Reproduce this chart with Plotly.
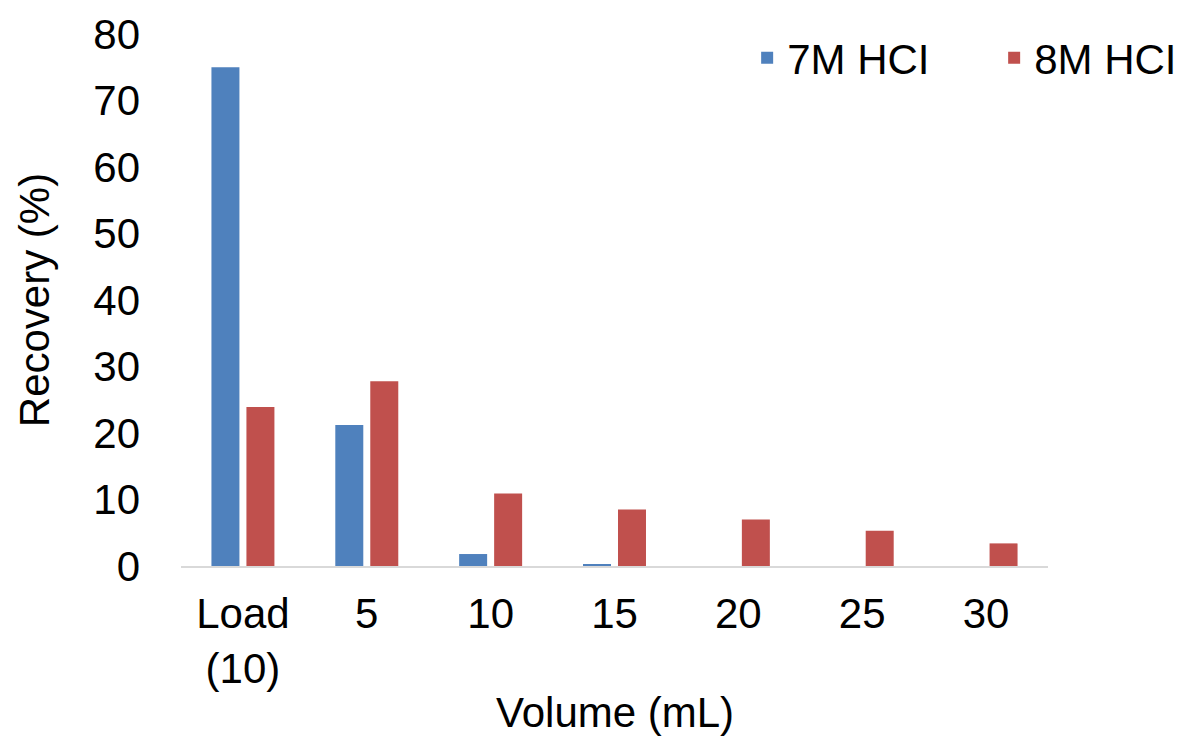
import plotly.graph_objects as go

categories = ["Load<br>(10)", "5", "10", "15", "20", "25", "30"]
hcl7 = [75.0, 21.2, 1.8, 0.3, 0.0, 0.0, 0.0]
hcl8 = [23.9, 27.8, 10.9, 8.5, 7.0, 5.3, 3.4]
series_names = ["7M HCI", "8M HCI"]
colors = ["#4F81BD", "#C0504D"]
y_ticks = [0, 10, 20, 30, 40, 50, 60, 70, 80]
x_title = "Volume (mL)"
y_title = "Recovery (%)"

FONT = "Liberation Sans, Arial, sans-serif"
FS = 42

fig = go.Figure()
for name, vals, col in zip(series_names, [hcl7, hcl8], colors):
    fig.add_trace(go.Bar(x=categories, y=vals, name=name,
                         marker=dict(color=col, line=dict(width=0))))

fig.update_layout(
    width=1170, height=729,
    margin=dict(l=173, r=130, t=26, b=171, autoexpand=False),
    paper_bgcolor="white", plot_bgcolor="white",
    font=dict(family=FONT, size=FS, color="#000000"),
    barmode="group", bargap=0.435, bargroupgap=0.2,
    showlegend=True,
    legend=dict(orientation="h", x=0.653, y=0.955, xanchor="left", yanchor="middle",
                font=dict(size=FS, family=FONT), bgcolor="rgba(0,0,0,0)",
                itemwidth=30, traceorder="normal",
                entrywidth=202, entrywidthmode="pixels"),
    xaxis=dict(
        showline=True, linecolor="#D9D9D9", linewidth=2,
        showgrid=False, ticks="", ticklabelstandoff=10,
        tickfont=dict(size=FS, family=FONT),
        automargin=False,
    ),
    yaxis=dict(
        range=[0, 80], tickvals=y_ticks, showline=False, showgrid=False,
        zeroline=False, ticks="", ticklabelstandoff=40,
        tickfont=dict(size=FS, family=FONT),
        title=dict(text=y_title, font=dict(size=FS, family=FONT), standoff=30),
        automargin=False,
    ),
    annotations=[dict(text=x_title, xref="paper", yref="paper", x=0.5, y=-0.276,
                      xanchor="center", yanchor="middle", showarrow=False,
                      font=dict(size=FS, family=FONT, color="#000000"))],
)

fig.write_html("out.html")
